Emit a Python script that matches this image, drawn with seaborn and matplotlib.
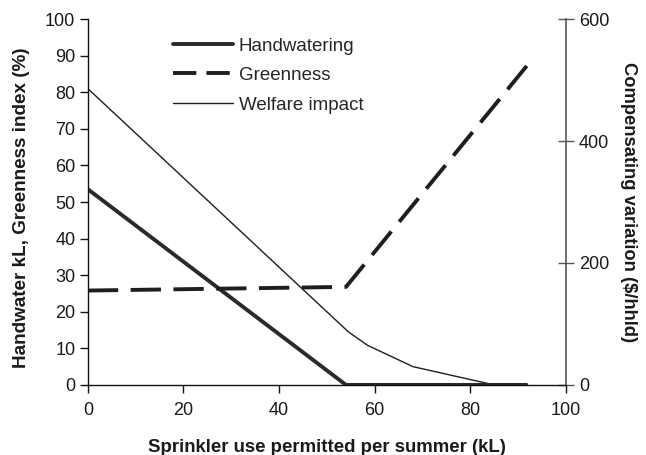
import matplotlib
matplotlib.use("Agg")
import matplotlib.pyplot as plt
import seaborn as sns
import pandas as pd
from matplotlib.lines import Line2D

# Data
hand_x = [0, 54, 92]
hand_y = [53.5, 0, 0]
green_x = [0, 54, 92]
green_y = [25.8, 26.8, 87.5]
welfare_x = [0, 54.5, 58.5, 68, 85, 92]
welfare_y = [486, 87, 65, 30, 0, 0]

x_ticks = [0, 20, 40, 60, 80, 100]
left_ticks = [0, 10, 20, 30, 40, 50, 60, 70, 80, 90, 100]
right_ticks = [0, 200, 400, 600]

sns.set_theme(style="white")
plt.rcParams['font.family'] = ['Liberation Sans', 'DejaVu Sans']

fig = plt.figure(figsize=(6.46, 4.55), dpi=100)
ax = fig.add_axes([0.136, 0.154, 0.740, 0.804])

dark = "#1e1e1e"
df_h = pd.DataFrame({"x": hand_x, "y": hand_y})
df_g = pd.DataFrame({"x": green_x, "y": green_y})
df_w = pd.DataFrame({"x": welfare_x, "y": welfare_y})

LW = 2.8
sns.lineplot(data=df_h, x="x", y="y", ax=ax, color="#2a2a2a", lw=LW, solid_capstyle="butt")
sns.lineplot(data=df_g, x="x", y="y", ax=ax, color=dark, lw=LW)
ax.lines[-1].set_dashes((7.8, 3.2))

ax2 = ax.twinx()
sns.lineplot(data=df_w, x="x", y="y", ax=ax2, color=dark, lw=1.0)

ax.set_xlim(0, 100)
ax.set_ylim(0, 100)
ax2.set_ylim(0, 600)
ax.set_xticks(x_ticks)
ax.set_yticks(left_ticks)
ax2.set_yticks(right_ticks)

for a in (ax, ax2):
    a.spines["top"].set_visible(False)
    a.grid(False)
ax2.spines["left"].set_visible(False)
ax2.spines["bottom"].set_visible(False)
ax.spines["right"].set_visible(False)
for s in ("left", "bottom"):
    ax.spines[s].set_color("#111111")
    ax.spines[s].set_linewidth(1.0)
ax2.spines["right"].set_color("#555555")
ax2.spines["right"].set_linewidth(1.2)

FS = 13
ax.tick_params(axis="both", direction="out", length=6, width=1, color="#111111",
               labelsize=FS, labelcolor="#1a1a1a", pad=3, left=True, bottom=True)
ax.tick_params(axis="x", pad=6)
ax2.tick_params(axis="y", direction="inout", length=11, width=1, color="#555555",
                labelsize=FS, labelcolor="#1a1a1a", pad=4, right=True)

ax.set_xlabel("Sprinkler use permitted per summer (kL)", fontsize=13.4, fontweight="bold",
              labelpad=15, color="#1a1a1a")
ax.set_ylabel("Handwater kL, Greenness index (%)", fontsize=13.6, fontweight="bold",
              color="#1a1a1a")
ax.yaxis.set_label_coords(-0.121, 0.484)
ax2.set_ylabel("Compensating variation ($/hhld)", fontsize=13.2, fontweight="bold",
               rotation=270, labelpad=20, color="#1a1a1a")

handles = [
    Line2D([], [], color="#2a2a2a", lw=LW),
    Line2D([], [], color=dark, lw=LW, dashes=(6.0, 2.6)),
    Line2D([], [], color=dark, lw=1.0),
]
labels = ["Handwatering", "Greenness", "Welfare impact"]
leg = ax.legend(handles, labels, loc="upper left", bbox_to_anchor=(0.178, 0.95),
                frameon=False, fontsize=13.5, handlelength=3.2, handletextpad=0.3,
                labelspacing=0.66, borderaxespad=0, borderpad=0)
ax.set_zorder(ax2.get_zorder() + 1)
ax.patch.set_visible(False)

fig.savefig("out.png", dpi=100)
